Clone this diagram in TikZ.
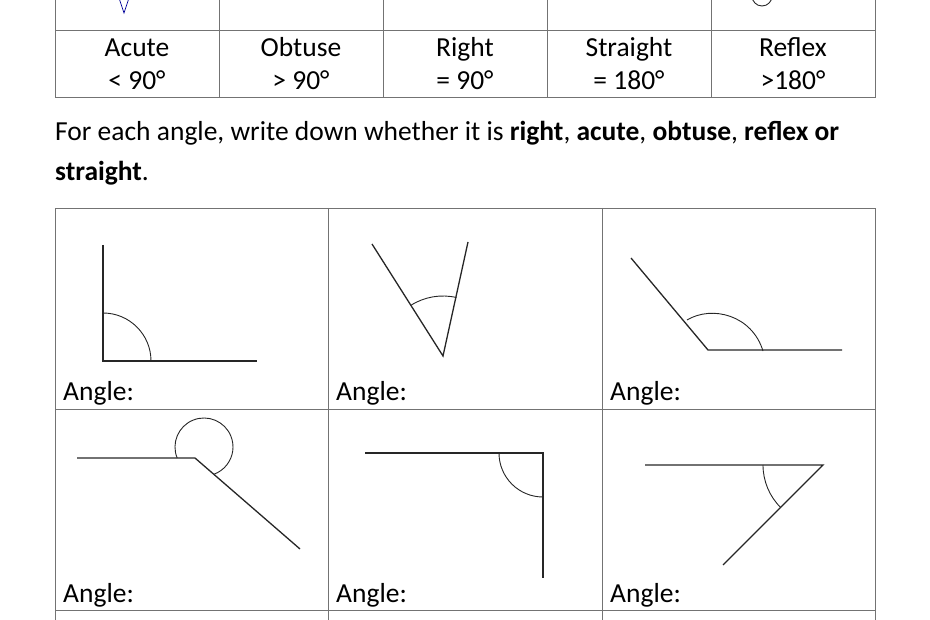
\documentclass[tikz,border=0pt]{standalone}
\usepackage{fontspec}
\setmainfont{Carlito}
\begin{document}
\begin{tikzpicture}[x=1pt,y=-1pt,
  grid/.style={draw=black!55,line width=0.9pt},
  ang/.style={line width=1.3pt,black!85},
  arcl/.style={line width=0.9pt,black!85},
  txt/.style={font=\fontsize{27.5}{32}\selectfont,inner sep=0pt},
  lbl/.style={font=\fontsize{27.5}{32}\selectfont,inner sep=0pt,anchor=base west}]
\useasboundingbox (0,0) rectangle (930,620);
% top table
\draw[grid] (55,-5) -- (55,97) -- (875,97) -- (875,-5);
\draw[grid] (55,30) -- (875,30);
\foreach \x in {219,383,547,711} \draw[grid] (\x,-5) -- (\x,97);
\draw[blue!60!black,line width=0.7pt] (119,-2) -- (124,13) -- (129,-2);
\draw[arcl] (752,-4) arc[start angle=180,end angle=0,radius=10];
\foreach \x/\a/\b [count=\i] in {137/Acute/{< 90°},301/Obtuse/{> 90°},465/Right/{= 90°},629/Straight/{= 180°},793/Reflex/{>180°}}{
  \node[txt,anchor=base] (h\i) at (\x,57) {\a};
  \node[txt,anchor=base] (v\i) at (\x,90) {\b};
}
\node[lbl] (s1) at (55,141) {For each angle, write down whether it is \textbf{right}, \textbf{acute}, \textbf{obtuse}, \textbf{reflex or}};
\node[lbl] (s2) at (55,181) {\textbf{straight}.};
% bottom table
\draw[grid] (55,625) -- (55,208) -- (875,208) -- (875,625);
\draw[grid] (55,409) -- (875,409);
\draw[grid] (55,610) -- (875,610);
\foreach \x in {328,602} \draw[grid] (\x,208) -- (\x,625);
\foreach \x/\y [count=\i] in {63/401,336/401,610/401,63/602,336/602,610/602}
  \node[lbl] (a\i) at (\x,\y) {Angle:};
% angle 1
\draw[ang] (103,245) -- (103,361) -- (257,361);
\draw[arcl] (151,361) arc[start angle=0,end angle=-90,radius=48];
% angle 2
\draw[ang] (372,244) -- (443,356) -- (468,242);
\draw[arcl] (443,356) ++(238:60) arc[start angle=238,end angle=283,radius=60];
% angle 3
\draw[ang] (631,258) -- (708,350) -- (842,350);
\draw[arcl] (687,320) .. controls (712,305) and (752,315) .. (763,351);
% angle 4
\draw[ang] (77,458) -- (195,458) -- (300,549);
\draw[arcl] (204,447) ++(157.7:29) arc[start angle=157.7,end angle=430.3,radius=29];
% angle 5
\draw[ang] (365,453) -- (543,453) -- (543,578);
\draw[arcl] (499,453) arc[start angle=180,end angle=90,radius=44];
% angle 6
\draw[ang] (645,465) -- (823,465) -- (723,565);
\draw[arcl] (763,465) arc[start angle=180,end angle=135,radius=60];
\end{tikzpicture}
\end{document}
